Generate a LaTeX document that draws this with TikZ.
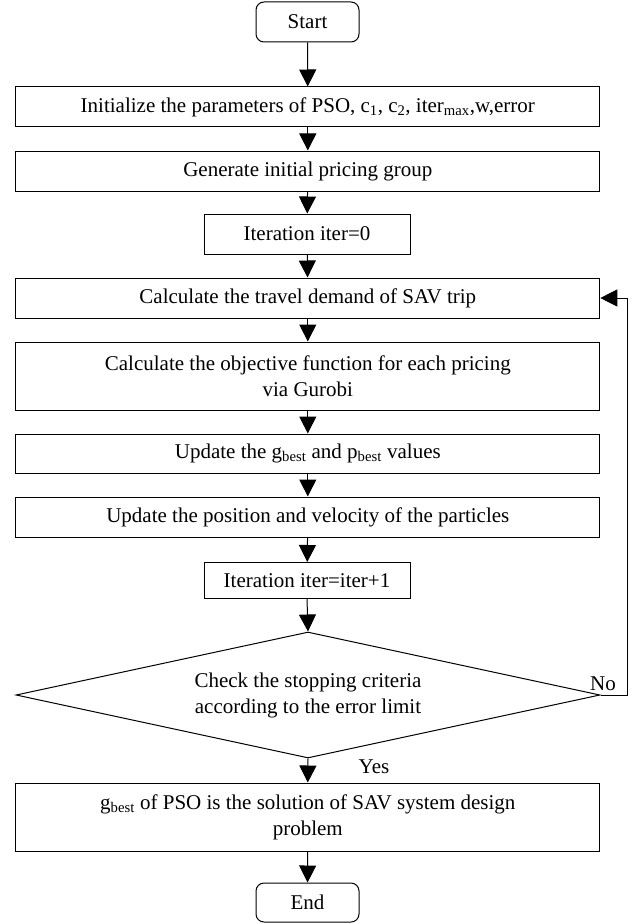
\documentclass[tikz,border=0pt]{standalone}
\usepackage{fontspec}
\setmainfont{Liberation Serif}
\usetikzlibrary{shapes.geometric,arrows.meta}
\begin{document}
\begin{tikzpicture}[x=1pt,y=-1pt,
  every node/.style={font=\fontsize{21}{26}\selectfont, align=center, inner sep=0pt},
  box/.style={draw, line width=1pt, minimum width=584pt, minimum height=40pt},
  smallbox/.style={draw, line width=1pt, minimum width=206pt, minimum height=40pt},
  term/.style={draw, line width=1pt, rounded corners=8pt, minimum width=103pt, minimum height=40pt},
  decision/.style={draw, line width=1pt, diamond, aspect=4.63, minimum width=584pt, minimum height=126pt},
  arr/.style={line width=1pt, -{Triangle[length=17pt,width=17pt]}},
  lbl/.style={font=\fontsize{21}{26}\selectfont}]
\useasboundingbox (0,0) rectangle (633,923);
\node[term] (start) at (307.5,22) {Start};
\node[box] (init) at (307.8,107) {Initialize the parameters of PSO, c\textsubscript{1}, c\textsubscript{2}, iter\textsubscript{max},w,error};
\node[box] (gen) at (307.8,171) {Generate initial pricing group};
\node[smallbox] (it0) at (307,234) {Iteration iter=0};
\node[box] (travel) at (307.8,298) {Calculate the travel demand of SAV trip};
\node[box, minimum height=68pt] (obj) at (307.8,376) {Calculate the objective function for each pricing\\via Gurobi};
\node[box, minimum height=39pt] (upg) at (307.8,453.5) {Update the g\textsubscript{best} and p\textsubscript{best} values};
\node[box] (pos) at (307.8,517) {Update the position and velocity of the particles};
\node[smallbox, minimum height=36pt] (it1) at (307,580.5) {Iteration iter=iter+1};
\node[decision] (dia) at (308,695) {Check the stopping criteria\\according to the error limit};
\node[box, minimum height=68pt] (res) at (307.8,817) {g\textsubscript{best} of PSO is the solution of SAV system design\\problem};
\node[term, minimum height=39pt] (end) at (307.5,902.5) {End};
\coordinate (loopc) at (627,695);
\node[lbl] (no) at (603,684) {No};
\node[lbl] (yes) at (374,767) {Yes};
\draw[arr] (start) -- (init);
\draw[arr] (init) -- (gen);
\draw[arr] (gen) -- (it0);
\draw[arr] (it0) -- (travel);
\draw[arr] (travel) -- (obj);
\draw[arr] (obj) -- (upg);
\draw[arr] (upg) -- (pos);
\draw[arr] (pos) -- (it1);
\draw[arr] (it1.south) -- (dia.north);
\draw[arr] (dia.south) -- (res.north);
\draw[arr] (res) -- (end);
\draw[arr] (dia.east) -- (loopc) |- (travel.east);
\end{tikzpicture}
\end{document}
